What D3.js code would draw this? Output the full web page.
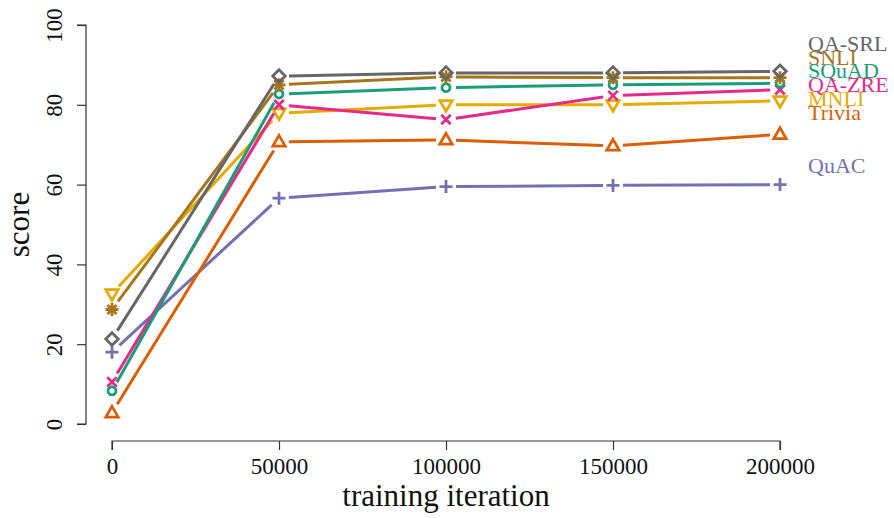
<!DOCTYPE html>
<html><head><meta charset="utf-8">
<script src="https://cdn.jsdelivr.net/npm/d3@7"></script>
<style>body{margin:0;background:#fff;} svg{display:block;} text{font-family:"Liberation Serif","DejaVu Serif",serif;}</style>
</head><body>
<svg id="c" width="894" height="518"></svg>
<script>
const iterations = [0, 50000, 100000, 150000, 200000];
const xTicks = [0, 50000, 100000, 150000, 200000];
const yTicks = [0, 20, 40, 60, 80, 100];
const seriesNames = ["QA-SRL", "SNLI", "SQuAD", "QA-ZRE", "MNLI", "Trivia", "QuAC"];
const qaSrl  = [21.3, 87.2, 88.0, 88.0, 88.4];
const snli   = [28.7, 85.0, 87.0, 86.8, 86.8];
const squad  = [8.3, 82.7, 84.3, 85.0, 85.4];
const qaZre  = [10.5, 80.0, 76.3, 82.3, 83.8];
const mnli   = [32.6, 77.9, 80.0, 80.0, 81.0];
const trivia = [2.8, 70.7, 71.2, 69.7, 72.6];
const quac   = [18.0, 56.6, 59.5, 59.8, 60.0];
const seriesValues = [qaSrl, snli, squad, qaZre, mnli, trivia, quac];
const colors = ["#666666", "#a6761d", "#1b9e77", "#e7298a", "#e6ab02", "#d95f02", "#7570b3"];
const shapes = ["diamond", "asterisk", "circle", "cross", "triDown", "triUp", "plus"];

const svg = d3.select("#c");
const x = d3.scaleLinear().domain([0, 200000]).range([112, 780]);
const y = d3.scaleLinear().domain([0, 100]).range([424, 25]);

// y axis
const yAxis = svg.append("g").attr("transform", "translate(86,0)")
  .call(d3.axisLeft(y).tickValues(yTicks).tickSize(9).tickPadding(20).tickFormat(d3.format("d")));
yAxis.select(".domain").attr("stroke", "#333").attr("stroke-width", 1.2).attr("d", `M-9,${y(0)}H0V${y(100)}H-9`);
yAxis.selectAll(".tick line").attr("stroke", "#333").attr("stroke-width", 1.2);
yAxis.selectAll(".tick text").attr("font-size", 23).attr("fill", "#111")
  .attr("transform", function(d){ return `rotate(-90, ${-31}, 0)`; })
  .attr("x", -31).attr("dy", "0.32em").attr("text-anchor", "middle")
  .attr("y", 0);

// x axis
const xAxis = svg.append("g").attr("transform", "translate(0,441)")
  .call(d3.axisBottom(x).tickValues(xTicks).tickSize(9).tickPadding(8).tickFormat(d3.format("d")));
xAxis.select(".domain").attr("stroke", "#333").attr("stroke-width", 1.2).attr("d", `M${x(0)},9V0H${x(200000)}V9`);
xAxis.selectAll(".tick line").attr("stroke", "#333").attr("stroke-width", 1.2);
xAxis.selectAll(".tick text").attr("font-size", 23).attr("fill", "#111");

// axis titles
svg.append("text").attr("x", (x(0)+x(200000))/2).attr("y", 506).attr("text-anchor", "middle")
  .attr("font-size", 31).attr("fill", "#111").text("training iteration");
svg.append("text").attr("transform", `translate(29,${(y(0)+y(100))/2}) rotate(-90)`).attr("text-anchor", "middle")
  .attr("font-size", 31).attr("fill", "#111").text("score");

function shapePath(s, r) {
  switch (s) {
    case "diamond": { const a = r*1.25; return `M0,${-a}L${a},0L0,${a}L${-a},0Z`; }
    case "circle": return `M${r},0A${r},${r} 0 1,1 ${-r},0A${r},${r} 0 1,1 ${r},0Z`;
    case "cross": { const a = r*0.95; return `M${-a},${-a}L${a},${a}M${-a},${a}L${a},${-a}`; }
    case "plus": { const a = r*1.3; return `M${-a},0H${a}M0,${-a}V${a}`; }
    case "asterisk": { const a = r*1.3, b = r*0.92; return `M${-a},0H${a}M0,${-a}V${a}M${-b},${-b}L${b},${b}M${-b},${b}L${b},${-b}`; }
    case "triUp": { const a = r*1.3; return `M0,${-a}L${a*0.95},${a*0.65}L${-a*0.95},${a*0.65}Z`; }
    case "triDown": { const a = r*1.3; return `M0,${a}L${a*0.95},${-a*0.65}L${-a*0.95},${-a*0.65}Z`; }
  }
}

const gap = 10;
const drawOrder = [6, 5, 4, 3, 2, 1, 0];
drawOrder.forEach(i => {
  const vals = seriesValues[i];
  const pts = vals.map((v, j) => [x(iterations[j]), y(v)]);
  const g = svg.append("g");
  for (let j = 0; j < pts.length - 1; j++) {
    const [x1, y1] = pts[j], [x2, y2] = pts[j+1];
    const L = Math.hypot(x2-x1, y2-y1);
    const ux = (x2-x1)/L, uy = (y2-y1)/L;
    g.append("line")
      .attr("x1", x1 + ux*gap).attr("y1", y1 + uy*gap)
      .attr("x2", x2 - ux*gap).attr("y2", y2 - uy*gap)
      .attr("stroke", colors[i]).attr("stroke-width", 3).attr("stroke-linecap", "butt");
  }
  g.selectAll("path.m").data(pts).join("path").attr("class", "m")
    .attr("transform", d => `translate(${d[0]},${d[1]})`)
    .attr("d", shapePath(shapes[i], shapes[i] === "circle" ? 4 : 5))
    .attr("fill", "none").attr("stroke", colors[i]).attr("stroke-width", 2.8)
    .attr("stroke-linejoin", "miter");
});

// labels: stacked list for the top six, QuAC beside its line
const labelTop = y(100) + 26;
const step = 13.7;
seriesNames.forEach((name, i) => {
  const last = seriesValues[i][seriesValues[i].length - 1];
  const ly = i < 6 ? labelTop + i*step : y(last) - 12;
  svg.append("text").attr("x", 808).attr("y", ly).attr("font-size", 22)
    .attr("fill", colors[i]).text(name);
});
</script>
</body></html>
